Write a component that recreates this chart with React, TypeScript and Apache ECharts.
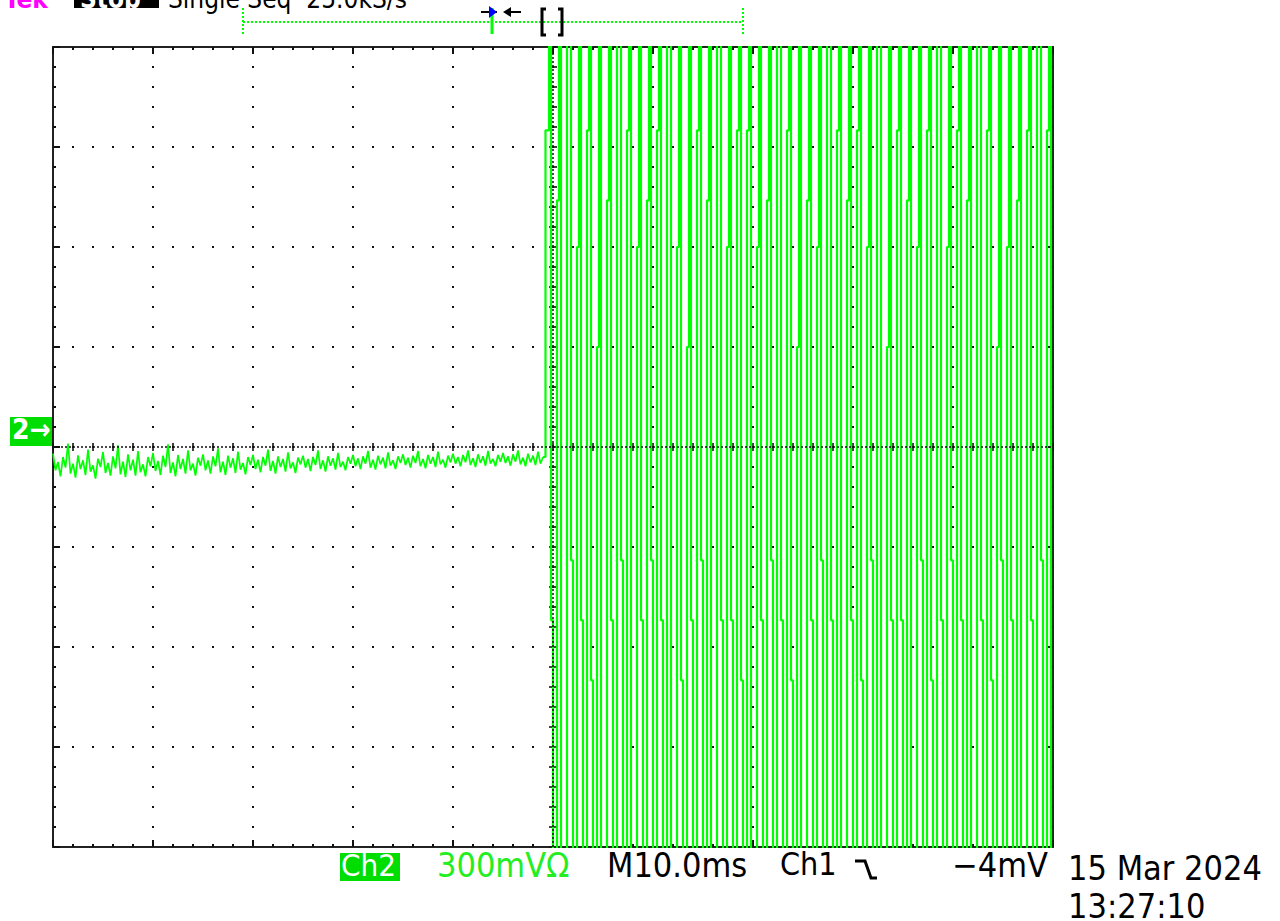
import React, { useEffect, useRef } from "react";
import * as echarts from "echarts";

// ---- Scope settings (time in ms, voltage in mV) ----
const TIME_MIN = -50;
const TIME_MAX = 50;
const TIME_PER_DIV = 10;
const VOLT_MIN = -1200;
const VOLT_MAX = 1200;
const VOLT_PER_DIV = 300;
const MINOR_PER_DIV = 5;

// ---- Channel 2 record: noise before the trigger ----
const PRE_STEP_MS = 0.25;
const PRE_TRIGGER_START_MS = -50;
const PRE_TRIGGER_MV = [
  -20, -70, -45, -88, -30, -62, 10, -80, -50, -92, -25, -66, -40, -84, -8, -74, -55, -95, -35, -60,
  -15, -78, -48, -86, -28, -64, 5, -82, -44, -90, -22, -70, -38, -86, -12, -76, -52, -88, -30, -58,
  -18, -72, -42, -84, -26, -60, 8, -78, -46, -88, -24, -66, -36, -80, -10, -70, -50, -86, -32, -56,
  -22, -70, -40, -80, -28, -58, -4, -76, -44, -84, -26, -62, -34, -78, -14, -68, -48, -82, -30, -54,
  -24, -66, -38, -76, -30, -56, -8, -72, -42, -80, -28, -60, -36, -74, -16, -64, -46, -78, -32, -52,
  -26, -62, -36, -72, -30, -54, -10, -66, -40, -74, -28, -56, -34, -68, -18, -60, -44, -70, -30, -50,
  -24, -58, -34, -66, -28, -50, -12, -62, -38, -68, -26, -52, -32, -64, -16, -56, -40, -66, -28, -48,
  -22, -54, -32, -62, -26, -48, -12, -58, -36, -64, -24, -50, -30, -60, -14, -52, -38, -62, -26, -46,
  -20, -50, -30, -58, -24, -46, -10, -54, -34, -60, -22, -48, -28, -56, -12, -50, -36, -58, -24, -44,
  -18, -48, -28, -56, -22, -44, -10, -52, -32, -58, -20, -46, -26, -54, -14, -50, -30,
];

// ---- Channel 2 record: clipped burst after the trigger ----
const POST_STEP_MS = 0.2;
const POST_TRIGGER_START_MS = -0.5;
const POST_TRIGGER_MV = [
  950, 1800, -520, -1800, -1800, 740, 1800, -1800, -1800, -1800,
  1800, 1800, -340, -1800, -1800, 600, 1800, -520, -1800, -1800,
  950, 1800, -700, -1800, -1800, 300, 1800, -1800, -1800, -1800,
  740, 1800, -520, -1800, -1800, 1800, 1800, -340, -1800, -1800,
  950, 1800, -1800, -1800, -1800, 600, 1800, -520, -1800, -1800,
  740, 1800, -340, -1800, -1800, 950, 1800, -520, -1800, -1800,
  1800, 1800, -1800, -1800, -1800, 600, 1800, -700, -1800, -1800,
  300, 1800, -520, -1800, -1800, 950, 1800, -340, -1800, -1800,
  740, 1800, -1800, -1800, -1800, 1800, 1800, -520, -1800, -1800,
  600, 1800, -520, -1800, -1800, 950, 1800, -700, -1800, -1800,
  950, 1800, -1800, -1800, -1800, 600, 1800, -520, -1800, -1800,
  740, 1800, -340, -1800, -1800, 1800, 1800, -520, -1800, -1800,
  950, 1800, -700, -1800, -1800, 300, 1800, -1800, -1800, -1800,
  740, 1800, -520, -1800, -1800, 600, 1800, -340, -1800, -1800,
  1800, 1800, -520, -1800, -1800, 950, 1800, -1800, -1800, -1800,
  740, 1800, -520, -1800, -1800, 950, 1800, -700, -1800, -1800,
  600, 1800, -340, -1800, -1800, 1800, 1800, -1800, -1800, -1800,
  300, 1800, -520, -1800, -1800, 950, 1800, -520, -1800, -1800,
  740, 1800, -1800, -1800, -1800, 600, 1800, -340, -1800, -1800,
  950, 1800, -700, -1800, -1800, 1800, 1800, -520, -1800, -1800,
  600, 1800, -340, -1800, -1800, 950, 1800, -520, -1800, -1800,
  740, 1800, -1800, -1800, -1800, 1800, 1800, -520, -1800, -1800,
  950, 1800, -700, -1800, -1800, 300, 1800, -340, -1800, -1800,
  600, 1800, -520, -1800, -1800, 740, 1800, -1800, -1800, -1800,
  950, 1800, -520, -1800, -1800, 1800, 1800, -340, -1800, -1800,
  950, 1800, -1800,
];

// ---- Readout texts ----
const HEADER_BRAND = "Tek";
const HEADER_STATE = "Stop";
const HEADER_MODE = "Single Seq  25.0kS/s";
const CH_MARKER = "2\u2192";
const CH_LABEL = "Ch2";
const CH_SCALE = "300mV\u03A9";
const TIMEBASE = "M10.0ms";
const TRIG_SOURCE = "Ch1";
const TRIG_LEVEL = "\u22124mV";
const DATE_TEXT = "15 Mar 2024";
const TIME_TEXT = "13:27:10";

const GREEN = "#00ff00";
const INK = "#111111";
const FONT = "'DejaVu Sans Condensed', 'Liberation Sans Narrow', sans-serif";
const READOUT_FONT = `34px ${FONT}`;

const GRID = { left: 53, top: 47, width: 1000, height: 800 };

export default function App() {
  const ref = useRef<HTMLDivElement>(null);

  useEffect(() => {
    if (!ref.current) return;
    const chart = echarts.init(ref.current, null, { renderer: "svg" });

    const pre = PRE_TRIGGER_MV.map((v, i) => [PRE_TRIGGER_START_MS + i * PRE_STEP_MS, v]);
    const lastPre = pre[pre.length - 1];
    const post = [lastPre].concat(
      POST_TRIGGER_MV.map((v, i) => [POST_TRIGGER_START_MS + i * POST_STEP_MS, v])
    );

    const minorT = TIME_PER_DIV / MINOR_PER_DIV;
    const minorV = VOLT_PER_DIV / MINOR_PER_DIV;
    const hTicks: number[][] = [];
    for (let t = TIME_MIN; t <= TIME_MAX + 1e-9; t += minorT) hTicks.push([t, 0]);
    const vTicks: number[][] = [];
    for (let v = VOLT_MIN; v <= VOLT_MAX + 1e-9; v += minorV) vTicks.push([0, v]);

    const axisCommon = {
      type: "value" as const,
      axisLabel: { show: false },
      axisLine: { show: true, onZero: false, lineStyle: { color: "#222", width: 2 } },
      axisTick: { show: true, inside: true, length: 7, lineStyle: { color: INK, width: 2 } },
      minorTick: { show: true, splitNumber: MINOR_PER_DIV, length: 3, lineStyle: { color: INK, width: 2 } },
    };
    const splitDots = {
      show: true,
      lineStyle: { color: INK, width: 2, type: [2, 18], dashOffset: 1 },
    };

    const option: any = {
      animation: false,
      backgroundColor: "#ffffff",
      grid: { ...GRID, containLabel: false },
      xAxis: [
        { ...axisCommon, position: "bottom", min: TIME_MIN, max: TIME_MAX, interval: TIME_PER_DIV, splitLine: splitDots },
        { ...axisCommon, position: "top", min: TIME_MIN, max: TIME_MAX, interval: TIME_PER_DIV, splitLine: { show: false } },
      ],
      yAxis: [
        { ...axisCommon, position: "left", min: VOLT_MIN, max: VOLT_MAX, interval: VOLT_PER_DIV, splitLine: splitDots },
        { ...axisCommon, position: "right", min: VOLT_MIN, max: VOLT_MAX, interval: VOLT_PER_DIV, splitLine: { show: false } },
      ],
      series: [
        {
          type: "scatter",
          name: "centerTicksH",
          silent: true,
          data: hTicks,
          symbol: "rect",
          symbolSize: [2, 8],
          itemStyle: { color: INK },
          z: 1,
          markLine: {
            silent: true,
            symbol: "none",
            label: { show: false },
            lineStyle: { color: INK, width: 1.5, type: [2, 2] },
            data: [{ yAxis: 0 }, { xAxis: 0 }],
          },
        },
        {
          type: "scatter",
          name: "centerTicksV",
          silent: true,
          data: vTicks,
          symbol: "rect",
          symbolSize: [8, 2],
          itemStyle: { color: INK },
          z: 1,
        },
        {
          type: "line",
          name: "Ch2 pre",
          data: pre,
          symbol: "none",
          clip: true,
          lineStyle: { color: GREEN, width: 1.7 },
          z: 3,
        },
        {
          type: "line",
          name: "Ch2 post",
          data: post,
          step: "middle",
          symbol: "none",
          clip: true,
          lineStyle: { color: GREEN, width: 2.2 },
          z: 3,
        },
      ],
      graphic: [
        // header (partly cut off at the top of the screen, as on the scope capture)
        { type: "text", left: 4, top: -14, style: { text: HEADER_BRAND, font: `bold 26px ${FONT}`, fill: "#ff00ff" } },
        { type: "rect", shape: { x: 74, y: -20, width: 85, height: 28 }, style: { fill: "#000" } },
        { type: "text", left: 80, top: -14, style: { text: HEADER_STATE, font: `bold 26px ${FONT}`, fill: "#fff" } },
        { type: "text", left: 168, top: -14, style: { text: HEADER_MODE, font: `26px ${FONT}`, fill: "#000" } },
        // record bar
        { type: "line", shape: { x1: 243, y1: 22, x2: 743, y2: 22 }, style: { stroke: GREEN, lineWidth: 2, lineDash: [2, 2] } },
        { type: "line", shape: { x1: 243, y1: 8, x2: 243, y2: 36 }, style: { stroke: GREEN, lineWidth: 2, lineDash: [2, 2] } },
        { type: "line", shape: { x1: 743, y1: 8, x2: 743, y2: 36 }, style: { stroke: GREEN, lineWidth: 2, lineDash: [2, 2] } },
        { type: "line", shape: { x1: 492, y1: 8, x2: 492, y2: 34 }, style: { stroke: GREEN, lineWidth: 3 } },
        { type: "line", shape: { x1: 481, y1: 12, x2: 497, y2: 12 }, style: { stroke: "#000", lineWidth: 2 } },
        { type: "polygon", shape: { points: [[489, 6], [497, 12], [489, 18]] }, style: { fill: "#0000ff" } },
        { type: "line", shape: { x1: 506, y1: 12, x2: 521, y2: 12 }, style: { stroke: "#000", lineWidth: 2 } },
        { type: "polygon", shape: { points: [[503, 12], [511, 7], [511, 17]] }, style: { fill: "#000" } },
        { type: "polyline", shape: { points: [[546, 9], [542, 9], [542, 35], [546, 35]] }, style: { stroke: "#000", lineWidth: 3, fill: "none" } },
        { type: "polyline", shape: { points: [[558, 9], [562, 9], [562, 35], [558, 35]] }, style: { stroke: "#000", lineWidth: 3, fill: "none" } },
        // channel ground marker
        { type: "rect", shape: { x: 10, y: 417, width: 43, height: 29 }, style: { fill: "#00dd00" } },
        { type: "text", left: 12, top: 415, style: { text: CH_MARKER, font: `bold 28px ${FONT}`, fill: "#fff" } },
        // bottom readouts
        { type: "rect", shape: { x: 340, y: 853, width: 60, height: 28 }, style: { fill: "#00dd00" } },
        { type: "text", left: 341, top: 849, style: { text: CH_LABEL, font: `31px ${FONT}`, fill: "#fff" } },
        { type: "text", left: 437, top: 848, style: { text: CH_SCALE, font: READOUT_FONT, fill: "#22ee22" } },
        { type: "text", left: 607, top: 848, style: { text: TIMEBASE, font: READOUT_FONT, fill: "#000" } },
        { type: "text", left: 780, top: 848, style: { text: TRIG_SOURCE, font: `32px ${FONT}`, fill: "#000" } },
        { type: "polyline", shape: { points: [[855, 861], [865, 861], [871, 878], [877, 878]] }, style: { stroke: "#000", lineWidth: 3, fill: "none" } },
        { type: "text", right: 1280 - 1048, top: 848, style: { text: TRIG_LEVEL, font: READOUT_FONT, fill: "#000" } },
        { type: "text", left: 1068, top: 851, style: { text: DATE_TEXT, font: READOUT_FONT, fill: "#000" } },
        { type: "text", left: 1068, top: 889, style: { text: TIME_TEXT, font: READOUT_FONT, fill: "#000" } },
      ],
    };

    chart.setOption(option);
    return () => chart.dispose();
  }, []);

  return (
    <div
      ref={ref}
      style={{ position: "fixed", left: 0, top: 0, width: 1280, height: 921, background: "#fff" }}
    />
  );
}
